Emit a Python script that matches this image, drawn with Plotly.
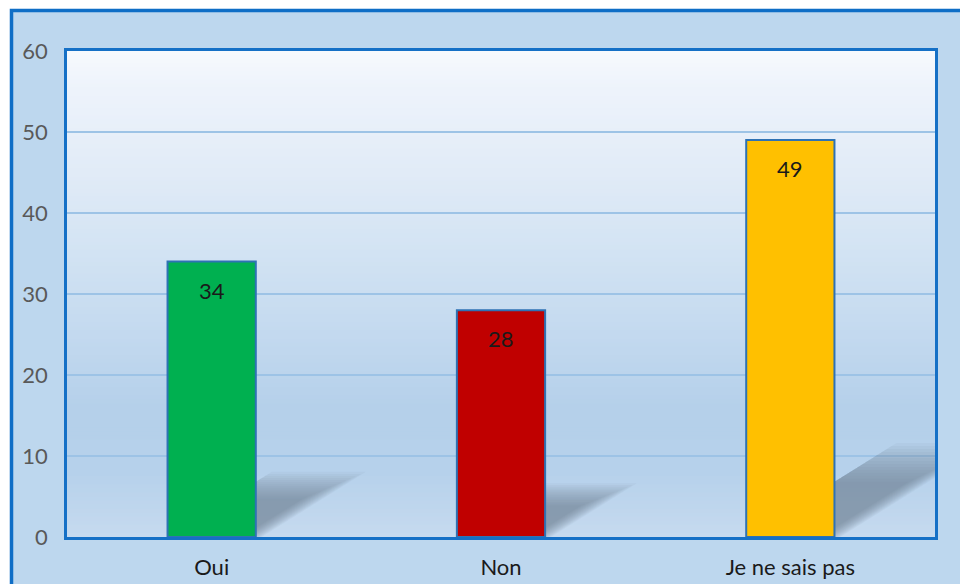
import plotly.graph_objects as go

categories = ["Oui", "Non", "Je ne sais pas"]
values = [34, 28, 49]
bar_colors = ["#00B050", "#C00000", "#FFC000"]
y_ticks = [0, 10, 20, 30, 40, 50, 60]

FONT = "Lato"
W, H = 960, 584
ML, MR, MT, MB = 67, 25, 51, 47
PW, PH = W - ML - MR, H - MT - MB
YMAX = 60
BAR_W = 0.305

def hex2rgb(h):
    h = h.lstrip("#")
    return tuple(int(h[i:i + 2], 16) for i in (0, 2, 4))

def lerp(c1, c2, t):
    a, b = hex2rgb(c1), hex2rgb(c2)
    return "rgb(%d,%d,%d)" % tuple(round(a[i] + (b[i] - a[i]) * t) for i in range(3))

grad_stops = [(0, "#C6DAEF"), (8, "#B6D1EB"), (16, "#B5D0EA"), (25, "#C3D9EF"),
              (35, "#D2E3F3"), (45, "#E1EBF7"), (55, "#EDF3FB"), (60, "#F6F9FD")]

def grad_color(y):
    for (y0, c0), (y1, c1) in zip(grad_stops[:-1], grad_stops[1:]):
        if y0 <= y <= y1:
            return lerp(c0, c1, (y - y0) / (y1 - y0))
    return grad_stops[-1][1]

shapes = []
px = lambda p: (p - ML) / PW
py = lambda p: (H - MB - p) / PH
# outer frame
shapes.append(dict(type="rect", xref="paper", yref="paper", x0=px(11.5), x1=px(W + 20),
                   y0=py(H + 20), y1=py(10.5), fillcolor="#BDD7EE",
                   line=dict(color="#0F6EC6", width=3.5), layer="below"))
# plot-area gradient: each band extends to the top, drawn bottom-up (no seams)
N = 120
for i in range(N):
    y0 = YMAX * i / N
    shapes.append(dict(type="rect", xref="x domain", yref="y", x0=0, x1=1, y0=y0, y1=YMAX,
                       fillcolor=grad_color(y0 + YMAX / N / 2), line=dict(width=0),
                       layer="below"))

# soft shadows derived from bar values
px_per_x = PW / 3.0
px_per_y = PH / YMAX
NL = 14
for i, v in enumerate(values):
    h_full = 0.232 * v
    xl = i - BAR_W / 2
    xr = i + BAR_W / 2
    for k in range(NL):
        f = 0.6 + 0.42 * k / (NL - 1)
        h = h_full * f
        off = 1.6 * h * px_per_y / px_per_x
        rs = -0.05 + 0.07 * k / (NL - 1)
        path = "M %f,0 L %f,%f L %f,%f L %f,0 Z" % (
            xl, xl + off, h, xr + off + rs, h, xr + rs)
        shapes.append(dict(type="path", xref="x", yref="y", path=path,
                           fillcolor="rgba(105,120,140,0.06)", line=dict(width=0),
                           layer="between"))

fig = go.Figure()
fig.add_trace(go.Bar(
    x=list(range(len(categories))), y=values, width=BAR_W,
    marker=dict(color=bar_colors, line=dict(color="#2E72B4", width=2)),
    hoverinfo="skip",
))

annotations = []
for i, v in enumerate(values):
    annotations.append(dict(x=i, y=v, xref="x", yref="y", text=str(v), showarrow=False,
                            yanchor="top", yshift=-13,
                            font=dict(family=FONT, size=22, color="#1A1A1A")))

fig.update_layout(
    width=W, height=H,
    margin=dict(l=ML, r=MR, t=MT, b=MB, autoexpand=False),
    paper_bgcolor="white",
    plot_bgcolor="rgba(0,0,0,0)",
    showlegend=False,
    shapes=shapes,
    annotations=annotations,
    font=dict(family=FONT, size=22, color="#595959"),
    xaxis=dict(range=[-0.5, 2.5], tickvals=list(range(len(categories))), ticktext=categories,
               showgrid=False, zeroline=False, showline=True, mirror=True,
               linecolor="#1570C6", linewidth=2.5, ticks="", automargin=False,
               tickfont=dict(family=FONT, size=22, color="#1A1A1A"),
               ticklabelstandoff=9, fixedrange=True),
    yaxis=dict(range=[0, YMAX], tickvals=y_ticks, showgrid=True, gridcolor="#9DC3E6",
               gridwidth=2, zeroline=False, showline=True, mirror=True,
               linecolor="#1570C6", linewidth=2.5, ticks="", automargin=False,
               tickfont=dict(family=FONT, size=22, color="#595959"),
               ticklabelstandoff=12, fixedrange=True),
)

fig.write_html("out.html", config={"displayModeBar": False},
               post_script="document.body.style.margin='0';document.body.style.overflow='hidden';")
